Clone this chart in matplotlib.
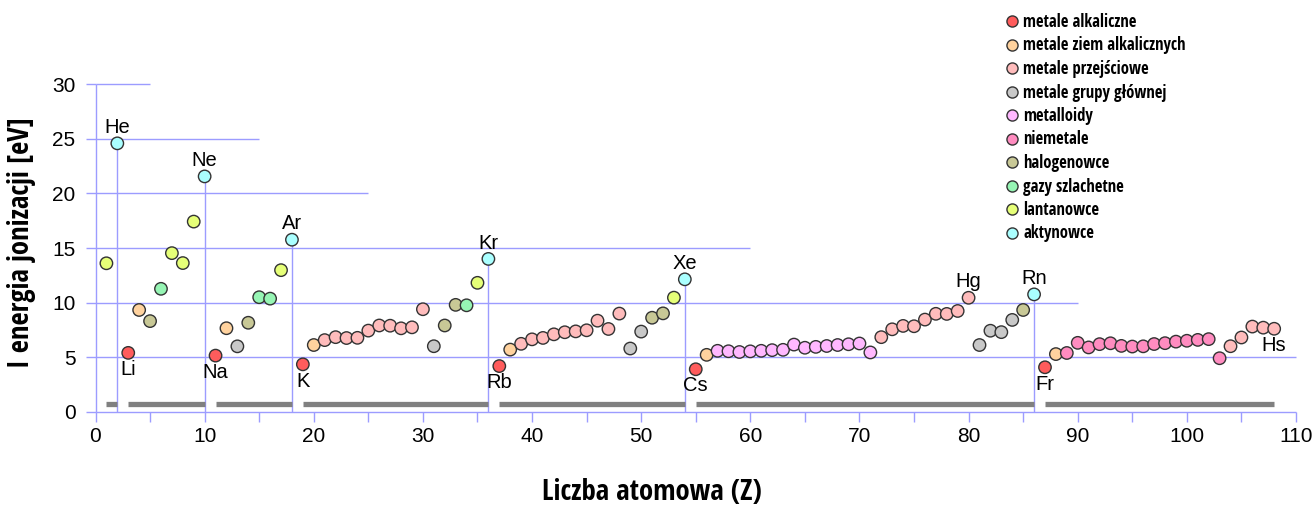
import matplotlib
matplotlib.use('Agg')
import matplotlib.pyplot as plt
from matplotlib.lines import Line2D

# ---------------- data ----------------
atomic_number = list(range(1, 109))
ionization_ev = [
    13.60, 24.59, 5.39, 9.32, 8.30, 11.26, 14.53, 13.62, 17.42, 21.56,      # 1-10
    5.14, 7.65, 5.99, 8.15, 10.49, 10.36, 12.97, 15.76,                     # 11-18
    4.34, 6.11, 6.56, 6.83, 6.75, 6.77, 7.43, 7.90, 7.88, 7.64, 7.73, 9.39, # 19-30
    6.00, 7.90, 9.79, 9.75, 11.81, 14.00,                                   # 31-36
    4.18, 5.69, 6.22, 6.63, 6.76, 7.09, 7.28, 7.36, 7.46, 8.34, 7.58, 8.99, # 37-48
    5.79, 7.34, 8.61, 9.01, 10.45, 12.13,                                   # 49-54
    3.89, 5.21, 5.58, 5.54, 5.47, 5.53, 5.58, 5.64, 5.67, 6.15, 5.86, 5.94, # 55-66
    6.02, 6.11, 6.18, 6.25, 5.43,                                           # 67-71
    6.83, 7.55, 7.86, 7.83, 8.44, 8.97, 8.96, 9.23, 10.44,                  # 72-80
    6.11, 7.42, 7.29, 8.41, 9.32, 10.75,                                    # 81-86
    4.07, 5.28, 5.38, 6.31, 5.89, 6.19, 6.27, 6.03, 5.97, 5.99, 6.20, 6.28, # 87-98
    6.42, 6.50, 6.58, 6.65, 4.90,                                           # 99-103
    6.00, 6.80, 7.80, 7.70, 7.60,                                           # 104-108
]
# colour class index (as drawn) for each element, refers to category_names
category = (
    [8, 9, 0, 1, 6, 7, 8, 8, 8, 9] +
    [0, 1, 3, 6, 7, 7, 8, 9] +
    [0, 1] + [2] * 10 + [3, 6, 6, 7, 8, 9] +
    [0, 1] + [2] * 10 + [3, 3, 6, 6, 8, 9] +
    [0, 1] + [4] * 15 + [2] * 9 + [3, 3, 3, 3, 6, 9] +
    [0, 1] + [5] * 15 + [2] * 5
)
category_names = [
    'metale alkaliczne', 'metale ziem alkalicznych', 'metale przejściowe',
    'metale grupy głównej', 'metalloidy', 'niemetale', 'halogenowce',
    'gazy szlachetne', 'lantanowce', 'aktynowce',
]
category_colors = [
    '#ff5c5c', '#ffd29e', '#ffbcbc', '#c8c8c8', '#ffb8ff',
    '#ff8cc0', '#c8c896', '#96f5b4', '#e6ff78', '#aaffff',
]
labels_above = {2: 'He', 10: 'Ne', 18: 'Ar', 36: 'Kr', 54: 'Xe', 80: 'Hg', 86: 'Rn'}
labels_below = {3: 'Li', 11: 'Na', 19: 'K', 37: 'Rb', 55: 'Cs', 87: 'Fr', 108: 'Hs'}
noble_gases = [2, 10, 18, 36, 54, 86]
periods = [(1, 2), (3, 10), (11, 18), (19, 36), (37, 54), (55, 86), (87, 108)]
grid_levels = [0, 5, 10, 15, 20, 25, 30]
grid_x_end = [110, 110, 90, 60, 25, 15, 5]

# ---------------- style ----------------
BOLD_FONT = ['Open Sans Condensed', 'Asap Condensed', 'DejaVu Sans']
REG_FONT = ['Liberation Sans', 'DejaVu Sans']
GRID_C = '#9c9cff'
W, H = 1316, 505

fig = plt.figure(figsize=(W / 100, H / 100), dpi=100)
x0px, x1px, y0px, y1px = 95.5, 1296.0, 411.7, 84.3
ax = fig.add_axes([x0px / W, (H - y0px) / H, (x1px - x0px) / W, (y0px - y1px) / H])
ax.set_xlim(0, 110)
ax.set_ylim(0, 30)
for s in ax.spines.values():
    s.set_visible(False)

ax.set_xticks(range(0, 111, 10))
ax.set_xticks(range(5, 110, 10), minor=True)
ax.set_yticks(grid_levels)
ax.tick_params(axis='both', which='both', color=GRID_C, width=1, length=7.4,
               labelsize=15, labelcolor='black')
ax.tick_params(axis='x', which='major', pad=3.5)
ax.tick_params(axis='y', which='major', pad=7)
for lab in ax.get_xticklabels() + ax.get_yticklabels():
    lab.set_family(REG_FONT)

# custom grid
ax.hlines(grid_levels, 0, grid_x_end, colors=GRID_C, linewidth=1, zorder=1, clip_on=False)
ax.vlines([0], 0, 30, colors=GRID_C, linewidth=1, zorder=1, clip_on=False)
ax.vlines(noble_gases, 0, [ionization_ev[z - 1] for z in noble_gases],
          colors=GRID_C, linewidth=1, zorder=1)

# period bars
for a, b in periods:
    ax.plot([a, b], [0.73, 0.73], color='#808080', linewidth=3.8,
            solid_capstyle='butt', zorder=2)

# points
ax.scatter(atomic_number, ionization_ev,
           c=[category_colors[c] for c in category],
           s=80, edgecolors='#333333', linewidths=1.0, zorder=3, clip_on=False)

# element labels
for z, name in labels_above.items():
    ax.annotate(name, (z, ionization_ev[z - 1]), xytext=(0, 7.4), textcoords='offset points',
                ha='center', va='baseline', fontsize=14.5, family=REG_FONT, zorder=4)
for z, name in labels_below.items():
    ax.annotate(name, (z, ionization_ev[z - 1]), xytext=(0, -16), textcoords='offset points',
                ha='center', va='baseline', fontsize=14.5, family=REG_FONT, zorder=4)

# axis titles
fig.text(22 / W, 1 - 243 / H, 'I energia jonizacji [eV]', rotation=90,
         ha='center', va='center', fontsize=20.7, fontweight='bold',
         fontstretch='condensed', family=BOLD_FONT)
fig.text(652 / W, 1 - 492 / H, 'Liczba atomowa (Z)',
         ha='center', va='center', fontsize=20.7, fontweight='bold',
         fontstretch='condensed', family=BOLD_FONT)

# legend
handles = [Line2D([], [], linestyle='none', marker='o', markersize=8,
                  markerfacecolor=col, markeredgecolor='#333333', markeredgewidth=1.0)
           for col in category_colors]
fig.legend(handles, category_names, loc='upper left',
           bbox_to_anchor=(1004.5 / W, 1 - 13 / H), frameon=False,
           prop={'family': BOLD_FONT, 'weight': 'bold', 'stretch': 'condensed', 'size': 12},
           handlelength=0.9, handletextpad=0.21, labelspacing=0.33,
           borderpad=0, borderaxespad=0)

fig.savefig('out.png', dpi=100)
